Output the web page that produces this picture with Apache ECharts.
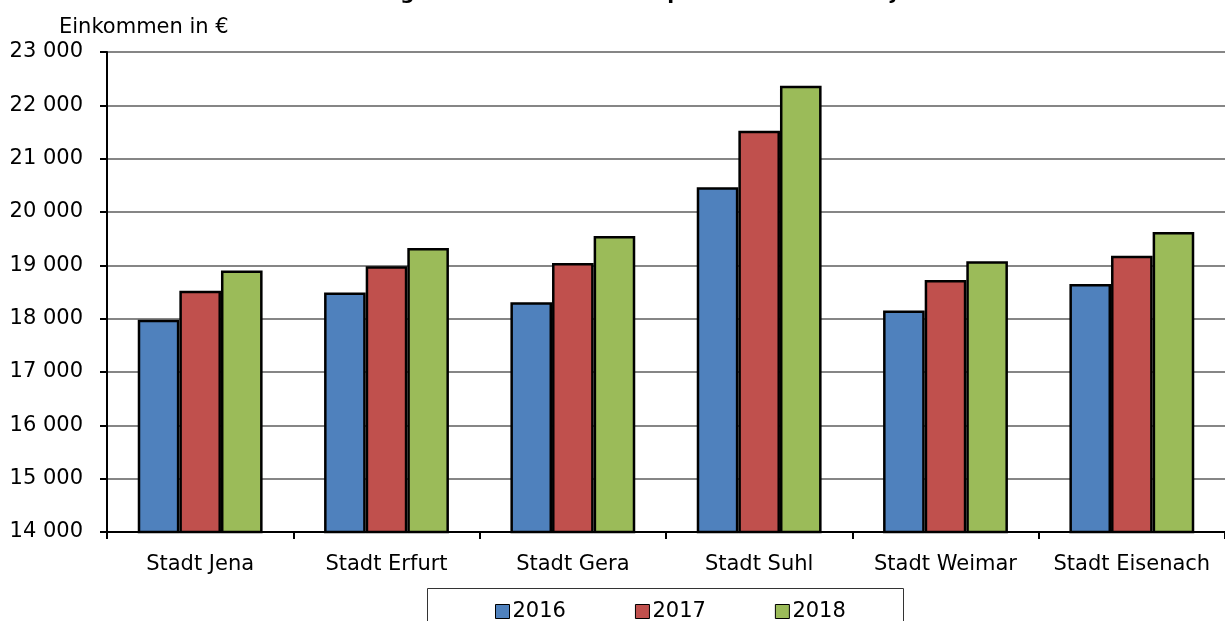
<!DOCTYPE html>
<html><head><meta charset="utf-8">
<script src="https://cdn.jsdelivr.net/npm/echarts@6/dist/echarts.min.js"></script>
<style>html,body{margin:0;padding:0;background:#fff}#c{width:1225px;height:621px}</style>
</head><body><div id="c"></div>
<script>
const categories = ['Stadt Jena','Stadt Erfurt','Stadt Gera','Stadt Suhl','Stadt Weimar','Stadt Eisenach'];
const years = ['2016','2017','2018'];
const v2016 = [17980, 18490, 18310, 20465, 18155, 18650];
const v2017 = [18525, 18985, 19045, 21525, 18725, 19180];
const v2018 = [18905, 19325, 19550, 22365, 19075, 19625];
const colors = ['#4F81BD','#C0504D','#9BBB59'];
const FONT = 'DejaVu Sans';
const chart = echarts.init(document.getElementById('c'));
const mk = (name, data, i) => ({
  name, type:'bar', data, barGap:'0%', barCategoryGap:'33%',
  itemStyle:{color:colors[i], borderColor:'#000', borderWidth:2.5},
  emphasis:{disabled:true}
});
chart.setOption({
  animation:false,
  title:{text:'Verfügbares Einkommen der privaten Haushalte je Einwohner', left:683, textAlign:'center', top:-21,
    textStyle:{fontFamily:FONT, fontSize:20, fontWeight:'bold', color:'#000'}},
  grid:{left:107, right:0, top:52, bottom:89, containLabel:false},
  legend:{data:years, left:490, top:596, itemWidth:14, itemHeight:14, itemGap:69,
    icon:'rect', textStyle:{fontFamily:FONT, fontSize:21, color:'#000', padding:[0,0,0,-2]},
    itemStyle:{borderColor:'#000', borderWidth:1}},
  graphic:[{type:'rect', shape:{x:427.5, y:588.5, width:476, height:40},
    style:{fill:'none', stroke:'#333', lineWidth:1}, z:-1}],
  xAxis:{type:'category', data:categories,
    axisLine:{lineStyle:{color:'#000', width:2}},
    axisTick:{show:true, length:7, lineStyle:{color:'#000', width:2}},
    axisLabel:{fontFamily:FONT, fontSize:21, color:'#000', margin:22, interval:0}},
  yAxis:{type:'value', min:14000, max:23000, interval:1000,
    name:'Einkommen in €', nameLocation:'end', nameGap:14,
    nameTextStyle:{fontFamily:FONT, fontSize:21, color:'#000', align:'left', padding:[0,0,0,-48]},
    axisLine:{show:true, lineStyle:{color:'#000', width:2}},
    axisTick:{show:true, length:7, lineStyle:{color:'#000', width:2}},
    splitLine:{lineStyle:{color:'#868686', width:2}},
    axisLabel:{fontFamily:FONT, fontSize:21, color:'#000', margin:24,
      formatter:v=>String(v).replace(/\B(?=(\d{3})+(?!\d))/g,' ')}},
  series:[mk(years[0],v2016,0), mk(years[1],v2017,1), mk(years[2],v2018,2)]
});
</script></body></html>
